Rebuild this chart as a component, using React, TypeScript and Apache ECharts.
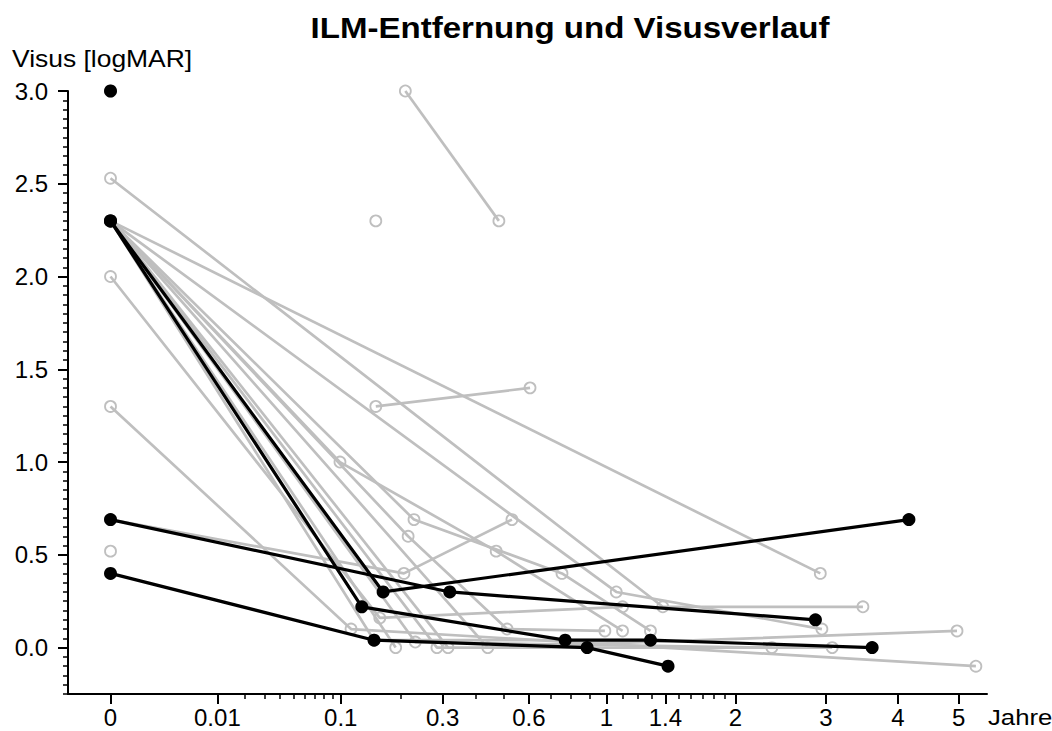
import React, { useEffect, useRef } from "react";
import * as echarts from "echarts";

const TITLE = "ILM-Entfernung und Visusverlauf";
const Y_NAME = "Visus [logMAR]";
const X_NAME = "Jahre";

// Time axis (years) is drawn on a cube-root scale
const xTicks = [0, 0.01, 0.1, 0.3, 0.6, 1, 1.4, 2, 3, 4, 5];
const xMinorTicks = [
  0.02, 0.03, 0.04, 0.05, 0.06, 0.07, 0.08, 0.09, 0.2, 0.4, 0.5, 0.7, 0.8,
  0.9, 1.1, 1.2, 1.3, 1.5, 1.6, 1.7, 1.8, 1.9,
];
const yTicks = [0, 0.5, 1, 1.5, 2, 2.5, 3];
const yMinorTicks = [
  -0.25, -0.2, -0.15, -0.1, -0.05, 0, 0.05, 0.1, 0.15, 0.2, 0.25, 0.3, 0.35,
  0.4, 0.45, 0.5, 0.55, 0.6, 0.65, 0.7, 0.75, 0.8, 0.85, 0.9, 0.95, 1, 1.05,
  1.1, 1.15, 1.2, 1.25, 1.3, 1.35, 1.4, 1.45, 1.5, 1.55, 1.6, 1.65, 1.7, 1.75,
  1.8, 1.85, 1.9, 1.95, 2, 2.05, 2.1, 2.15, 2.2, 2.25, 2.3, 2.35, 2.4, 2.45,
  2.5, 2.55, 2.6, 2.65, 2.7, 2.75, 2.8, 2.85, 2.9, 2.95, 3,
];

// Eyes without ILM removal: [years, logMAR]
const grayEyes: number[][][] = [
  [[0, 3.0]],
  [[0.21, 3.0], [0.48, 2.3]],
  [[0.153, 2.3]],
  [[0, 2.53], [1.38, 0.22], [3.49, 0.22]],
  [[0, 2.3], [2.93, 0.4]],
  [[0, 2.3], [0.099, 1.0], [0.47, 0.52], [1.1, 0.09]],
  [[0, 2.0], [0.16, 0.16], [1.1, 0.22]],
  [[0, 1.3], [0.114, 0.1], [5.31, -0.1]],
  [[0, 0.69], [0.207, 0.4], [0.53, 0.69]],
  [[0, 0.52]],
  [[0, 2.3], [0.15, 0.04], [1.29, 0.04]],
  [[0, 2.3], [0.229, 0.69], [0.754, 0.4], [1.29, 0.09]],
  [[0, 2.3], [0.216, 0.6], [0.511, 0.1], [0.99, 0.09]],
  [[0, 2.3], [0.19, 0.0]],
  [[0, 2.3], [0.232, 0.03], [2.37, 0.0]],
  [[0, 2.3], [0.285, 0.0], [3.08, 0.0]],
  [[0, 2.3], [0.315, 0.0]],
  [[0, 2.3], [0.44, 0.0], [4.97, 0.09]],
  [[0, 2.3], [1.06, 0.3], [2.95, 0.1]],
  [[0.153, 1.3], [0.605, 1.4]],
];

// Eyes with ILM removal
const blackEyes: number[][][] = [
  [[0, 3.0]],
  [[0, 2.3], [0.166, 0.3], [4.17, 0.69]],
  [[0, 2.3], [0.13, 0.22], [0.77, 0.04], [1.29, 0.04], [3.62, 0.0]],
  [[0, 0.69], [0.32, 0.3], [2.87, 0.15]],
  [[0, 0.4], [0.15, 0.04], [0.887, 0.0], [1.42, -0.1]],
];

const X_MIN = -0.0857;
const X_MAX = 1.767;
const Y_MIN = -0.25;
const Y_MAX = 3.0;

const toAxis = (t: number) => Math.cbrt(t);
const project = (pts: number[][]) => pts.map(([t, v]) => [toAxis(t), v]);

const formatYear = (u: number) => {
  let best = xTicks[0];
  let bestD = Infinity;
  for (const t of xTicks) {
    const d = Math.abs(toAxis(t) - u);
    if (d < bestD) {
      bestD = d;
      best = t;
    }
  }
  return String(best);
};

const GRAY = "#bfbfbf";
const FONT = "'Liberation Sans', Arial, sans-serif";

export default function App() {
  const ref = useRef<HTMLDivElement>(null);

  useEffect(() => {
    document.body.style.margin = "0";
    if (!ref.current) return;
    const chart = echarts.init(ref.current, null, { renderer: "svg" });

    const graySeries = grayEyes.map((pts, i) => ({
      name: "ohne ILM " + (i + 1),
      type: "line",
      data: project(pts),
      symbol: "circle",
      symbolSize: 11,
      showSymbol: true,
      showAllSymbol: true,
      silent: true,
      z: 2,
      lineStyle: { color: GRAY, width: 2.7 },
      itemStyle: { color: "rgba(255,255,255,0)", borderColor: GRAY, borderWidth: 1.8 },
    }));
    const blackSeries = blackEyes.map((pts, i) => ({
      name: "mit ILM " + (i + 1),
      type: "line",
      data: project(pts),
      symbol: "circle",
      symbolSize: 13,
      showSymbol: true,
      showAllSymbol: true,
      silent: true,
      z: 3,
      lineStyle: { color: "#000", width: 3.2 },
      itemStyle: { color: "#000", borderWidth: 0 },
    }));

    const axisLine = { show: true, onZero: false, lineStyle: { color: "#000", width: 2 } };
    const labelStyle = { color: "#000", fontFamily: FONT, fontSize: 24 };

    chart.setOption({
      animation: false,
      backgroundColor: "#fff",
      grid: { left: 68, right: 65, top: 91, bottom: 37, containLabel: false },
      xAxis: [
        {
          type: "value",
          min: X_MIN,
          max: X_MAX,
          axisLine,
          splitLine: { show: false },
          axisTick: {
            show: true,
            customValues: xTicks.map(toAxis),
            length: 10,
            lineStyle: { color: "#000", width: 2 },
          },
          axisLabel: {
            ...labelStyle,
            customValues: xTicks.map(toAxis),
            formatter: (v: number) => formatYear(v),
            margin: 11,
          },
        },
        {
          type: "value",
          min: X_MIN,
          max: X_MAX,
          position: "bottom",
          axisLine: { show: false, onZero: false },
          splitLine: { show: false },
          axisLabel: { show: false },
          axisTick: {
            show: true,
            customValues: xMinorTicks.map(toAxis),
            length: 5,
            lineStyle: { color: "#000", width: 1.5 },
          },
        },
      ],
      yAxis: [
        {
          type: "value",
          min: Y_MIN,
          max: Y_MAX,
          axisLine,
          splitLine: { show: false },
          axisTick: {
            show: true,
            customValues: yTicks,
            length: 10,
            lineStyle: { color: "#000", width: 2 },
          },
          axisLabel: {
            ...labelStyle,
            customValues: yTicks,
            formatter: (v: number) => v.toFixed(1),
            margin: 20,
          },
        },
        {
          type: "value",
          min: Y_MIN,
          max: Y_MAX,
          position: "left",
          axisLine: { show: false, onZero: false },
          splitLine: { show: false },
          axisLabel: { show: false },
          axisTick: {
            show: true,
            customValues: yMinorTicks,
            length: 5,
            lineStyle: { color: "#000", width: 1.5 },
          },
        },
      ],
      graphic: [
        {
          type: "text",
          x: 570,
          y: 14,
          scaleX: 1.14,
          style: {
            text: TITLE,
            fill: "#000",
            font: `bold 29px ${FONT}`,
            textAlign: "center",
            textVerticalAlign: "top",
          },
        },
        {
          type: "text",
          x: 12,
          y: 48,
          scaleX: 1.15,
          style: {
            text: Y_NAME,
            fill: "#000",
            font: `23px ${FONT}`,
            textAlign: "left",
            textVerticalAlign: "top",
          },
        },
        {
          type: "text",
          x: 988,
          y: 705,
          scaleX: 1.12,
          style: {
            text: X_NAME,
            fill: "#000",
            font: `23px ${FONT}`,
            textAlign: "left",
            textVerticalAlign: "top",
          },
        },
      ],
      series: [...graySeries, ...blackSeries],
    });

    return () => chart.dispose();
  }, []);

  return (
    <div
      ref={ref}
      style={{ position: "absolute", left: 0, top: 0, width: 1052, height: 731 }}
    />
  );
}
